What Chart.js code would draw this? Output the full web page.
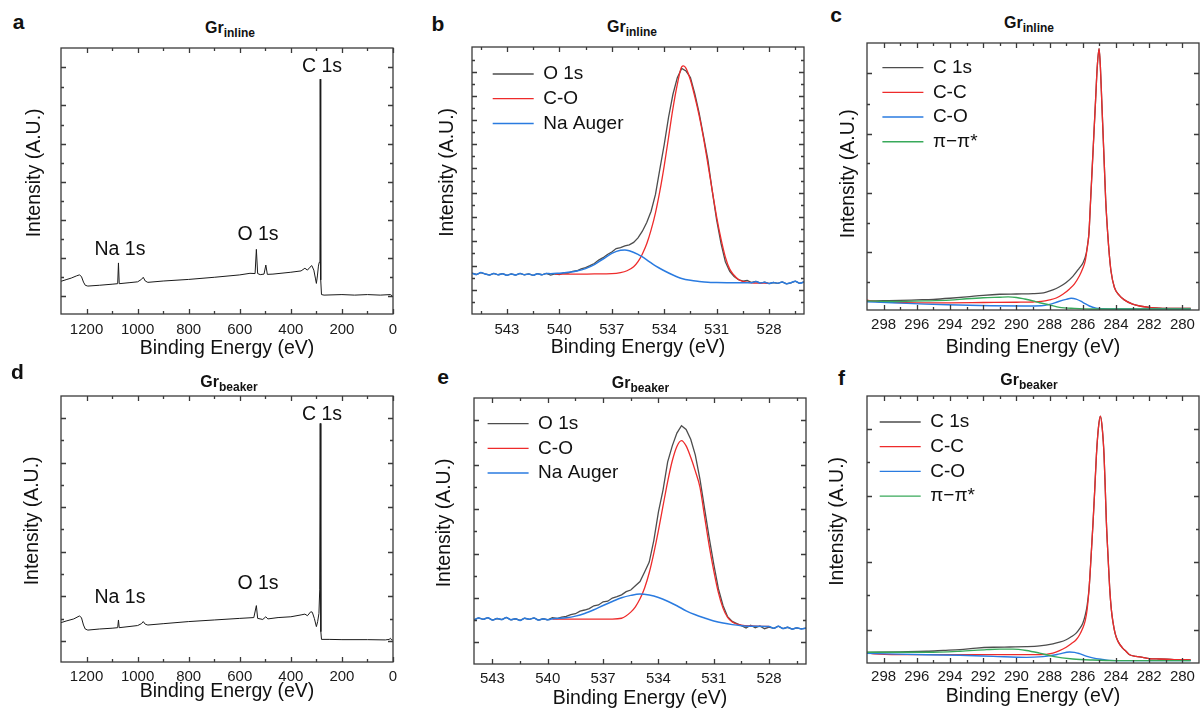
<!DOCTYPE html>
<html>
<head>
<meta charset="utf-8">
<title>XPS panels</title>
<script src="https://cdn.jsdelivr.net/npm/chart.js@4.4.0/dist/chart.umd.min.js"></script>
<style>
  body { margin: 0; width: 1201px; height: 713px; background: #fff; position: relative; overflow: hidden;
         font-family: "Liberation Sans", Arial, Helvetica, sans-serif; color: #111; }
  canvas { position: absolute; }
  .lbl { position: absolute; font-weight: bold; font-size: 21px; line-height: 1; transform: translate(-50%, -50%); }
  .ttl { position: absolute; font-weight: bold; font-size: 16px; line-height: 16px; white-space: nowrap; transform: translate(-50%, -50%); }
  .ttl sub { font-size: 12px; vertical-align: -4px; line-height: 0; }
</style>
</head>
<body>
<canvas id="pa"></canvas><canvas id="pb"></canvas><canvas id="pc"></canvas>
<canvas id="pd"></canvas><canvas id="pe"></canvas><canvas id="pf"></canvas>

<div class="lbl" style="left:18.5px;top:21px">a</div>
<div class="lbl" style="left:438px;top:22.5px">b</div>
<div class="lbl" style="left:836px;top:14px">c</div>
<div class="lbl" style="left:17.5px;top:370.5px">d</div>
<div class="lbl" style="left:443px;top:375.5px">e</div>
<div class="lbl" style="left:841.5px;top:377px">f</div>

<div class="ttl" style="left:230px;top:28px">Gr<sub>inline</sub></div>
<div class="ttl" style="left:632px;top:26.7px">Gr<sub>inline</sub></div>
<div class="ttl" style="left:1029px;top:23.3px">Gr<sub>inline</sub></div>
<div class="ttl" style="left:229px;top:381.7px">Gr<sub>beaker</sub></div>
<div class="ttl" style="left:640.5px;top:383.3px">Gr<sub>beaker</sub></div>
<div class="ttl" style="left:1029px;top:380px">Gr<sub>beaker</sub></div>

<script>
//-------------------------------------------------------------
// Data: [binding energy (eV), intensity (a.u., 0-100 of frame)]
//-------------------------------------------------------------
const surveyTicks = [1200, 1000, 800, 600, 400, 200, 0];
const o1sTicks = [543, 540, 537, 534, 531, 528];
const c1sTicks = [298, 296, 294, 292, 290, 288, 286, 284, 282, 280];

const surveyPeaks = ["Na 1s", "O 1s", "C 1s"];
const o1sNames = ["O 1s", "C-O", "Na Auger"];
const c1sNames = ["C 1s", "C-C", "C-O", "\u03c0\u2212\u03c0*"];

// a) survey, Gr inline
const aSurvey = [[1300,12.3],[1280,12.9],[1260,13.5],[1240,14.3],[1228,14.7],[1220,14.1],[1212,12.0],[1205,10.8],[1195,10.5],[1150,10.8],[1100,11.2],[1078,11.4],[1075,19.2],[1072,11.4],[1030,11.8],[1000,12.1],[985,13.0],[978,13.8],[970,12.4],[960,11.9],[900,12.4],[800,13.0],[700,13.8],[600,14.7],[560,15.3],[540,15.2],[535,24.3],[530,15.2],[520,14.8],[505,15.0],[498,18.4],[492,14.9],[470,15.0],[400,15.7],[360,16.2],[345,17.2],[335,16.5],[325,17.6],[318,18.2],[310,16.5],[304,13.5],[300,11.5],[296,14.3],[292,18.0],[289,19.4],[286,19.5],[285,88.3],[284,19.5],[282,12.8],[280,7.3],[270,7.1],[200,7.3],[150,7.1],[100,7.3],[50,7.1],[10,7.3],[3,6.8]];

// d) survey, Gr beaker
const dSurvey = [[1300,14.8],[1280,15.4],[1250,16.2],[1228,17.3],[1220,16.7],[1212,13.9],[1205,12.4],[1195,12.0],[1150,12.4],[1100,12.7],[1078,12.9],[1075,15.8],[1072,12.9],[1000,13.7],[985,14.4],[978,15.2],[970,14.2],[960,13.9],[900,14.4],[800,15.2],[700,15.8],[600,16.4],[545,16.7],[535,21.2],[530,16.4],[510,16.0],[498,17.0],[490,16.2],[450,16.7],[400,17.0],[360,17.7],[345,18.0],[335,17.4],[322,18.9],[316,18.7],[308,16.4],[300,13.3],[295,15.2],[290,18.3],[287,27.1],[285,89.7],[283,27.1],[282,11.4],[280,8.5],[250,8.5],[200,8.4],[100,8.4],[30,8.3],[15,8.5],[10,8.9],[5,8.3],[2,8.3]];

// b) O 1s, Gr inline
const bO1s = [[545,15.3],[544.75,14.8],[544.5,15.5],[544.25,15.0],[544,14.6],[543.75,15.2],[543.5,14.7],[543.25,15.1],[543,14.5],[542.75,15.0],[542.5,14.6],[542.25,15.2],[542,14.7],[541.75,15.0],[541.5,14.5],[541.25,15.1],[541,14.7],[540.75,15.2],[540.5,14.6],[540.25,15.0],[540,14.8],[539.75,15.4],[539.5,15.3],[539.25,16.0],[539,16.2],[538.75,16.9],[538.5,17.4],[538.25,18.1],[538,18.9],[537.75,20.2],[537.5,21.1],[537.25,22.3],[537,23.2],[536.75,24.5],[536.5,24.9],[536.25,25.5],[536,25.9],[535.75,26.8],[535.5,28.5],[535.25,31.0],[535,34.3],[534.75,38.5],[534.5,44.8],[534.25,54.3],[534,63.4],[533.75,73.7],[533.5,82.3],[533.25,88.5],[533,92.0],[532.75,91.0],[532.5,88.6],[532.25,82.5],[532,75.2],[531.75,66.5],[531.5,57.7],[531.25,46.0],[531,35.2],[530.75,26.5],[530.5,19.6],[530.25,16.0],[530,14.0],[529.75,12.9],[529.5,12.3],[529.25,12.6],[529,11.8],[528.75,12.2],[528.5,11.6],[528.25,11.9],[528,11.4],[527.75,11.8],[527.5,11.5],[527.25,12.0],[527,11.3],[526.75,11.7],[526.5,12.3],[526.25,11.5],[526,12.0]];
const bCO = [[540.25,14.9],[539,14.9],[538,15.0],[537,15.1],[536.5,15.5],[536.13,16.2],[535.75,17.7],[535.5,19.6],[535.25,22.5],[535,26.3],[534.75,31.5],[534.5,37.9],[534.25,46.0],[534,55.5],[533.75,66.2],[533.5,77.0],[533.25,86.0],[533,92.6],[532.9,92.9],[532.75,92.0],[532.5,87.6],[532.25,81.4],[532,74.3],[531.75,65.9],[531.5,56.1],[531.25,46.2],[531,36.4],[530.75,28.1],[530.5,21.3],[530.25,16.8],[530,14.5],[529.75,12.9],[529.5,12.2],[529,11.7],[528,11.5]];
const bNaFit = [[540.5,15.1],[540,15.3],[539.5,15.6],[539,16.1],[538.5,17.0],[538,18.5],[537.5,20.6],[537,22.7],[536.5,23.9],[536.25,24.0],[536,23.7],[535.5,22.3],[535,20.3],[534.5,18.0],[534,16.2],[533.5,14.6],[533,13.3],[532.5,12.6],[532,12.2],[531.5,11.9],[531,11.8],[530,11.7],[529,11.7]];

// e) O 1s, Gr beaker
const eO1s = [[544,16.6],[543.75,17.3],[543.5,16.8],[543.25,17.4],[543,16.5],[542.75,17.1],[542.5,16.7],[542.25,17.5],[542,16.6],[541.75,17.0],[541.5,16.4],[541.25,17.2],[541,16.8],[540.75,17.3],[540.5,16.5],[540.25,17.0],[540,16.6],[539.75,17.4],[539.5,17.1],[539.25,17.6],[539,17.9],[538.75,18.6],[538.5,18.9],[538.25,19.9],[538,20.3],[537.75,20.8],[537.5,21.9],[537.25,22.2],[537,23.4],[536.75,23.6],[536.5,24.8],[536.25,25.3],[536,26.0],[535.75,27.2],[535.5,27.8],[535.25,29.4],[535,31.0],[534.75,34.6],[534.5,38.3],[534.25,46.5],[534,57.2],[533.75,65.5],[533.5,76.0],[533.25,82.0],[533,86.8],[532.75,89.6],[532.5,88.2],[532.25,84.5],[532,78.5],[531.75,69.5],[531.5,58.5],[531.25,47.5],[531,37.5],[530.75,28.3],[530.5,22.0],[530.25,17.8],[530,16.0],[529.75,15.2],[529.5,14.4],[529.25,13.5],[529,14.6],[528.75,13.6],[528.5,14.3],[528.25,13.2],[528,13.9],[527.75,13.4],[527.5,14.2],[527.25,13.3],[527,13.8],[526.75,13.1],[526.5,13.6],[526.25,13.2],[526,13.5]];
const eCO = [[539.75,16.9],[538,16.9],[537,16.9],[536.5,16.9],[536,17.2],[535.5,19.5],[535.25,21.5],[535,24.5],[534.75,28.6],[534.5,34.3],[534.25,41.7],[534,50.2],[533.75,59.5],[533.5,68.6],[533.25,76.4],[533,81.8],[532.75,84.0],[532.5,82.0],[532.25,77.7],[532,72.5],[531.75,66.5],[531.5,55.5],[531.25,44.5],[531,35.0],[530.75,26.8],[530.5,21.0],[530.25,17.5],[530,15.8],[529.75,15.0],[529.5,14.6],[529,14.3],[528,14.1]];
const eNaFit = [[539.75,17.0],[539,17.4],[538.5,18.0],[538,19.0],[537.5,20.4],[537,22.0],[536.5,23.5],[536,24.9],[535.5,25.8],[535,26.3],[534.5,25.9],[534,25.0],[533.5,23.6],[533,21.9],[532.5,20.0],[532,18.5],[531.5,17.3],[531,16.2],[530.5,15.4],[530,14.8],[529.5,14.4],[529,14.2],[528,14.1]];

// c) C 1s, Gr inline
const cC1s = [[299,3.4],[298,3.5],[297,3.6],[296,3.8],[295,4.0],[294,4.4],[293,4.9],[292,5.5],[291,5.9],[290,6.0],[289,6.1],[288.5,6.3],[288.2,6.7],[287.8,7.5],[287.4,8.7],[287,10.3],[286.6,12.6],[286.2,15.8],[286,17.5],[285.8,21.0],[285.7,25.0],[285.63,28.7],[285.53,41.1],[285.43,53.6],[285.33,66.1],[285.23,78.6],[285.13,91.0],[285.02,97.9],[284.94,91.0],[284.86,78.6],[284.78,66.1],[284.7,53.6],[284.62,41.1],[284.5,28.7],[284.4,20.5],[284.3,14.5],[284.1,8.5],[283.8,5.5],[283.5,3.8],[283,2.2],[282.5,1.4],[282,1.0],[281,0.6],[279.5,0.6]];
const cCC = [[299,3.7],[298.5,3.2],[297.5,2.9],[296,2.7],[294,2.7],[292,2.8],[290,2.9],[289,3.0],[288.5,3.2],[288,3.8],[287.6,4.5],[287.2,5.9],[286.8,7.9],[286.5,9.8],[286.2,12.8],[286,15.6],[285.85,18.5],[285.75,22.5],[285.63,28.7],[285.53,41.1],[285.43,53.6],[285.33,66.1],[285.23,78.6],[285.13,91.0],[285.02,97.9],[284.94,91.0],[284.86,78.6],[284.78,66.1],[284.7,53.6],[284.62,41.1],[284.5,28.7],[284.4,20.5],[284.3,14.5],[284.1,8.5],[283.8,5.5],[283.5,3.8],[283,2.2],[282.5,1.4],[282,1.0],[281,0.6],[279.5,0.6]];
const cCO = [[299,3.1],[297.5,2.7],[295.5,2.2],[293.5,1.9],[291.5,1.6],[289.5,1.5],[288.5,1.6],[288,2.1],[287.5,3.1],[287,4.0],[286.7,4.4],[286.4,4.1],[286,2.9],[285.6,1.5],[285.2,0.7],[284.8,0.5],[284,0.4],[279.5,0.4]];
const cPi = [[299,3.4],[297.5,3.2],[295.5,3.4],[294,3.7],[293,4.2],[292,4.6],[291,4.8],[290.5,4.9],[290,4.7],[289.5,4.1],[289,3.4],[288.6,2.7],[288,1.9],[287.4,1.0],[286.5,0.6],[285.5,0.4],[279.5,0.4]];

// f) C 1s, Gr beaker
const fC1s = [[299,4.0],[297,4.2],[295.4,4.4],[294.4,4.7],[293.4,5.0],[292.4,5.6],[291.4,5.9],[290.4,6.0],[289.4,6.1],[288.6,6.4],[287.8,7.2],[287.4,7.8],[287,8.7],[286.7,9.8],[286.4,11.2],[286.2,12.8],[286,14.9],[285.85,18.0],[285.74,21.5],[285.62,28.0],[285.5,40.0],[285.38,52.9],[285.28,65.0],[285.18,77.8],[285.06,88.0],[284.94,92.5],[284.83,88.0],[284.72,77.8],[284.65,66.0],[284.58,52.9],[284.48,40.0],[284.38,28.0],[284.28,20.0],[284.18,15.2],[284.05,11.0],[283.88,8.1],[283.6,5.6],[283.4,4.4],[283.18,3.1],[282.8,2.5],[282.4,2.1],[281.98,1.6],[281.4,1.5],[280.5,1.3],[279.5,1.2]];
const fCC = [[299,4.0],[298.6,3.4],[297,3.1],[294,3.1],[291,3.1],[288.6,3.1],[287.8,3.7],[287.4,4.6],[287,5.9],[286.7,7.2],[286.4,8.7],[286.2,10.5],[286,13.1],[285.85,16.0],[285.74,20.0],[285.62,28.0],[285.5,40.0],[285.38,52.9],[285.28,65.0],[285.18,77.8],[285.06,88.0],[284.94,92.5],[284.83,88.0],[284.72,77.8],[284.65,66.0],[284.58,52.9],[284.48,40.0],[284.38,28.0],[284.28,20.0],[284.18,15.2],[284.05,11.0],[283.88,8.1],[283.6,5.6],[283.4,4.4],[283.18,3.1],[282.8,2.5],[282.4,2.1],[281.98,1.6],[281.4,1.5],[280.5,1.3],[279.5,1.2]];
const fCO = [[299,3.6],[295.4,3.1],[293.4,2.9],[291.4,2.5],[289.4,2.1],[288.4,2.4],[287.8,2.9],[287.4,3.4],[286.8,4.1],[286.5,4.0],[286.2,3.5],[285.8,2.6],[285.4,1.9],[284.8,1.3],[284.4,1.0],[283.5,0.9],[279.5,0.9]];
const fPi = [[299,4.0],[295.4,4.0],[293.4,4.4],[291.8,5.0],[291,5.2],[290.2,5.2],[289.4,4.7],[288.6,3.7],[287.8,2.5],[286.6,1.5],[285.4,1.1],[284,0.9],[279.5,0.9]];

//-------------------------------------------------------------
// Look
//-------------------------------------------------------------
const FONT = '"Liberation Sans", Arial, Helvetica, sans-serif';
const C_DATA = "#4d4d4d", C_RED = "#ee2b2b", C_BLUE = "#2a7be0", C_GREEN = "#38a95a";
Chart.defaults.font.family = FONT;
Chart.defaults.color = "#1a1a1a";

// plot frame positions (px on the page) for each panel;
// yLift = leading spaces that nudge the rotated y title upward
const geo = {
  a: { L: 61, R: 393, T: 48, B: 314, yTitleX: 35, xTitleY: 348, tickPad: 6.8, yLift: 3 },
  b: { L: 472, R: 804, T: 47, B: 314, yTitleX: 448, xTitleY: 347, tickPad: 6.8, yLift: 3 },
  c: { L: 867, R: 1199, T: 43, B: 310, yTitleX: 849, xTitleY: 347, tickPad: 5.8, yLift: 1 },
  d: { L: 61, R: 393, T: 396, B: 662, yTitleX: 33, xTitleY: 691.7, tickPad: 5.5, yLift: 3 },
  e: { L: 474, R: 806, T: 398, B: 664, yTitleX: 445, xTitleY: 698, tickPad: 5.9, yLift: 3 },
  f: { L: 867, R: 1199, T: 396, B: 663, yTitleX: 838, xTitleY: 696.7, tickPad: 4.9, yLift: 3 }
};

//-------------------------------------------------------------
// Plugins: box frame with inward ticks, peak labels, legend offset
//-------------------------------------------------------------
const frameTicks = {
  id: "frameTicks",
  afterDatasetsDraw(chart, args, o) {
    const { ctx, chartArea: a } = chart;
    const x = chart.scales.x, y = chart.scales.y;
    ctx.save();
    ctx.strokeStyle = "#3a3a3a";
    ctx.lineWidth = 1.3;
    ctx.strokeRect(a.left, a.top, a.right - a.left, a.bottom - a.top);
    ctx.beginPath();
    const xm = (list, len) => list.forEach((v) => {
      const p = Math.round(x.getPixelForValue(v)) + 0.5;
      ctx.moveTo(p, a.bottom); ctx.lineTo(p, a.bottom - len);
      ctx.moveTo(p, a.top); ctx.lineTo(p, a.top + len);
    });
    const ym = (list, len) => list.forEach((v) => {
      const p = Math.round(y.getPixelForValue(v)) + 0.5;
      ctx.moveTo(a.left, p); ctx.lineTo(a.left + len, p);
      ctx.moveTo(a.right, p); ctx.lineTo(a.right - len, p);
    });
    xm(o.xMajor || [], 5); xm(o.xMinor || [], 3);
    ym(o.yMajor || [], 5); ym(o.yMinor || [], 3);
    ctx.stroke();
    ctx.restore();
  }
};

const peakText = {
  id: "peakText",
  afterDatasetsDraw(chart, args, o) {
    if (!o.items) return;
    const { ctx } = chart;
    ctx.save();
    ctx.font = "19.5px " + FONT;
    ctx.fillStyle = "#111";
    ctx.textAlign = "center";
    ctx.textBaseline = "middle";
    o.items.forEach(([t, e, v]) =>
      ctx.fillText(t, chart.scales.x.getPixelForValue(e), chart.scales.y.getPixelForValue(v)));
    ctx.restore();
  }
};

const legendShift = {
  id: "legendShift",
  afterLayout(chart, args, o) {
    const lg = chart.legend;
    if (!lg || o.dx === undefined) return;
    lg.left = chart.chartArea.left + o.dx;
    lg.top = chart.chartArea.top + o.dy;
    lg.right = lg.left + lg.width;
    lg.bottom = lg.top + lg.height;
  }
};

//-------------------------------------------------------------
// Helpers
//-------------------------------------------------------------
function series(label, arr, color, width, order, smooth) {
  return {
    label,
    data: arr.map(([x, y]) => ({ x, y })),
    borderColor: color,
    backgroundColor: color,
    borderWidth: width,
    pointRadius: 0,
    order,
    tension: 0,
    cubicInterpolationMode: smooth ? "monotone" : "default"
  };
}

function makePanel(id, g, xMin, xMax, xTicks, frame, datasets, extra) {
  const cv = document.getElementById(id);
  const left = Math.round(g.yTitleX - 11.7);
  const top = g.T - 6;
  const bottom = Math.round(g.xTitleY + 11.7);
  const padRight = 12;
  cv.width = g.R + padRight - left;
  cv.height = bottom - top;
  cv.style.left = left + "px";
  cv.style.top = top + "px";

  new Chart(cv, {
    type: "line",
    data: { datasets },
    options: {
      responsive: false,
      animation: false,
      events: [],
      layout: { padding: { top: 6, right: padRight, left: 0, bottom: 0 } },
      scales: {
        x: {
          type: "linear",
          reverse: true,
          min: xMin,
          max: xMax,
          grid: { display: false, drawTicks: false },
          border: { display: false },
          afterBuildTicks: (s) => { s.ticks = xTicks.map((v) => ({ value: v })); },
          afterFit: (s) => { s.height = bottom - g.B; },
          ticks: {
            autoSkip: false, maxRotation: 0, padding: g.tickPad,
            font: { size: 15 }, color: "#1a1a1a",
            callback: (v) => String(v)
          },
          title: { display: true, text: "Binding Energy (eV)", font: { size: 19.5 }, color: "#111", padding: 0 }
        },
        y: {
          min: 0,
          max: 100,
          grid: { display: false, drawTicks: false },
          border: { display: false },
          ticks: { display: false },
          afterFit: (s) => { s.width = g.L - left; },
          title: { display: true, text: " ".repeat(g.yLift) + "Intensity (A.U.)", font: { size: 19.5 }, color: "#111", padding: 0 }
        }
      },
      plugins: Object.assign({
        tooltip: { enabled: false },
        frameTicks: frame,
        legend: { display: false }
      }, extra)
    },
    plugins: [frameTicks, peakText, legendShift]
  });
}

function legendOpts(dx, dy) {
  return {
    legend: {
      display: true,
      position: "chartArea",
      align: "start",
      labels: {
        usePointStyle: true,
        pointStyle: "line",
        pointStyleWidth: 41,
        padding: 5.7,
        color: "#111",
        font: { size: 19 },
        sort: (p, q) => p.datasetIndex - q.datasetIndex
      }
    },
    legendShift: { dx, dy }
  };
}

//-------------------------------------------------------------
// Panels
//-------------------------------------------------------------
const surveyMinor = [1100, 900, 700, 500, 300, 100];
const o1sMinor = [544.5, 541.5, 538.5, 535.5, 532.5, 529.5, 526.5];
const c1sMinor = [297, 295, 293, 291, 289, 287, 285, 283, 281];

makePanel("pa", geo.a, 0, 1300, surveyTicks,
  { xMajor: surveyTicks, xMinor: surveyMinor,
    yMajor: [6.8, 21.1, 35.4, 49.7, 64.0, 78.4, 92.7], yMinor: [13.9, 28.2, 42.5, 56.8, 71.2, 85.5] },
  [series("survey", aSurvey, "#1a1a1a", 1, 1, false)],
  { peakText: { items: [[surveyPeaks[0], 1069, 24.1], [surveyPeaks[1], 528.7, 29.7], [surveyPeaks[2], 278, 93]] } });

makePanel("pd", geo.d, 0, 1300, surveyTicks,
  { xMajor: surveyTicks, xMinor: surveyMinor,
    yMajor: [7.9, 24.8, 41.4, 58.3, 74.8, 91.7], yMinor: [16.3, 33.1, 49.9, 66.6, 83.3] },
  [series("survey", dSurvey, "#1a1a1a", 1, 1, false)],
  { peakText: { items: [[surveyPeaks[0], 1069, 24.3], [surveyPeaks[1], 528.7, 29.6], [surveyPeaks[2], 278, 92.9]] } });

// Na Auger traces follow the raw data outside the fitted window
const bNaAuger = bO1s.filter((p) => p[0] > 540.5).concat(bNaFit, bO1s.filter((p) => p[0] < 529));
const eNaAuger = eO1s.filter((p) => p[0] > 539.75).concat(eNaFit, eO1s.filter((p) => p[0] < 528));

makePanel("pb", geo.b, 526, 545, o1sTicks,
  { xMajor: o1sTicks, xMinor: o1sMinor,
    yMajor: [9.0, 18.1, 27.3, 36.4, 45.4, 54.5, 63.6, 72.7, 81.8, 90.7],
    yMinor: [4.5, 13.6, 22.7, 31.8, 40.9, 50.0, 59.0, 68.1, 77.2, 86.3, 95.3] },
  [series(o1sNames[0], bO1s, C_DATA, 1.3, 3, false),
   series(o1sNames[1], bCO, C_RED, 1.3, 2, true),
   series(o1sNames[2], bNaAuger, C_BLUE, 1.5, 1, true)],
  legendOpts(15, 11.8));

makePanel("pe", geo.e, 526, 544, o1sTicks,
  { xMajor: o1sTicks, xMinor: o1sMinor.filter((v) => v < 544),
    yMajor: [8.3, 24.8, 41.5, 58.3, 74.8, 91.6], yMinor: [16.6, 33.2, 50.0, 66.6, 83.3] },
  [series(o1sNames[0], eO1s, C_DATA, 1.3, 3, false),
   series(o1sNames[1], eCO, C_RED, 1.3, 2, true),
   series(o1sNames[2], eNaAuger, C_BLUE, 1.5, 1, true)],
  legendOpts(7.9, 10.4));

makePanel("pc", geo.c, 279, 299, c1sTicks,
  { xMajor: c1sTicks, xMinor: c1sMinor,
    yMajor: [21.8, 43.9, 66.1, 88.6], yMinor: [10.6, 32.7, 54.9, 77.3] },
  [series(c1sNames[0], cC1s, C_DATA, 1.3, 4, true),
   series(c1sNames[1], cCC, C_RED, 1.3, 3, true),
   series(c1sNames[2], cCO, C_BLUE, 1.4, 2, true),
   series(c1sNames[3], cPi, C_GREEN, 1.4, 1, true)],
  legendOpts(9.7, 9.4));

makePanel("pf", geo.f, 279, 299, c1sTicks,
  { xMajor: c1sTicks, xMinor: c1sMinor,
    yMajor: [12.4, 37.7, 62.5, 87.6], yMinor: [25.3, 50.1, 75.1] },
  [series(c1sNames[0], fC1s, C_DATA, 1.3, 4, true),
   series(c1sNames[1], fCC, C_RED, 1.3, 3, true),
   series(c1sNames[2], fCO, C_BLUE, 1.4, 2, true),
   series(c1sNames[3], fPi, C_GREEN, 1.4, 1, true)],
  legendOpts(7, 10.8));
</script>
</body>
</html>
